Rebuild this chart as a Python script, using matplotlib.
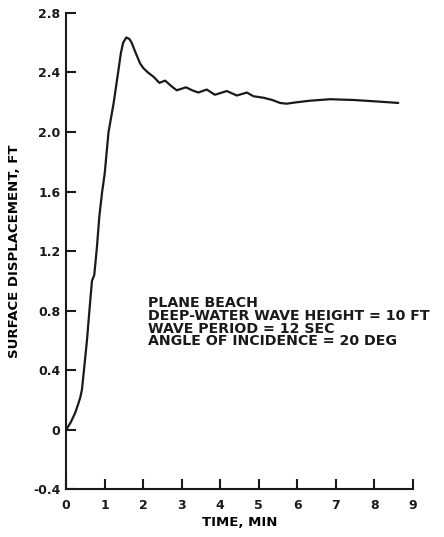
import numpy as np
import matplotlib.pyplot as plt

plt.rcParams['font.family'] = ['DejaVu Sans']
plt.rcParams['font.weight'] = 'bold'

# Время, мин, и возвышение поверхности, фут
t = [0.0, 0.05, 0.12, 0.23, 0.31, 0.37, 0.41, 0.47, 0.54, 0.61, 0.67, 0.73,
     0.80, 0.86, 0.93, 1.0, 1.10, 1.23, 1.36, 1.42, 1.48, 1.56, 1.64,
     1.70, 1.79, 1.92, 2.0, 2.12, 2.27, 2.42, 2.57, 2.72, 2.87, 3.11,
     3.27, 3.43, 3.65, 3.86, 4.17, 4.43, 4.69, 4.86, 5.12, 5.35, 5.55,
     5.72, 6.0, 6.33, 6.85, 7.45, 8.06, 8.62]
y = [0.0, 0.02, 0.05, 0.11, 0.17, 0.22, 0.27, 0.42, 0.60, 0.82, 1.0, 1.04,
     1.23, 1.43, 1.59, 1.72, 2.0, 2.19, 2.42, 2.53, 2.60, 2.635, 2.625,
     2.60, 2.54, 2.46, 2.43, 2.40, 2.37, 2.33, 2.345, 2.31, 2.28, 2.30,
     2.28, 2.265, 2.285, 2.25, 2.275, 2.245, 2.265, 2.24, 2.23, 2.215, 2.195,
     2.19, 2.20, 2.21, 2.22, 2.215, 2.205, 2.195]

xticks = np.arange(0, 10)
yticks = [-0.4, 0, 0.4, 0.8, 1.2, 1.6, 2.0, 2.4, 2.8]
ylabels = ['-0.4', '0', '0.4', '0.8', '1.2', '1.6', '2.0', '2.4', '2.8']

fig = plt.figure(figsize=(4.44, 5.37), dpi=100)
ax = fig.add_axes([0.149, 0.089, 0.781, 0.887])

ax.plot(t, y, color='#1a1a1a', lw=1.6, solid_capstyle='round',
        solid_joinstyle='round')
# маленький крючок у начала кривой
ax.plot([0.0, 0.12], [0.0, 0.0], color='#1a1a1a', lw=1.4)

ax.set_xlim(0, 9)
ax.set_ylim(-0.4, 2.8)
ax.set_xticks(xticks)
ax.set_yticks(yticks)
ax.set_yticklabels(ylabels)

for s in ['top', 'right']:
    ax.spines[s].set_visible(False)
for s in ['left', 'bottom']:
    ax.spines[s].set_linewidth(1.5)
    ax.spines[s].set_color('#1a1a1a')

ax.tick_params(direction='in', length=7, width=1.5, colors='#1a1a1a',
               labelsize=9, pad=7)
ax.tick_params(axis='y', pad=4)

ax.set_xlabel('TIME, MIN', fontsize=9.5, fontweight='bold', labelpad=3)
ax.set_ylabel('SURFACE DISPLACEMENT, FT', fontsize=9.5, fontweight='bold',
              labelpad=9)

ax.text(2.13, 0.90,
        'PLANE BEACH\nDEEP-WATER WAVE HEIGHT = 10 FT\n'
        'WAVE PERIOD = 12 SEC\nANGLE OF INCIDENCE = 20 DEG',
        fontsize=10.2, fontweight='bold', va='top', ha='left',
        linespacing=0.9, color='#1a1a1a')

plt.savefig('out.png', dpi=100)
